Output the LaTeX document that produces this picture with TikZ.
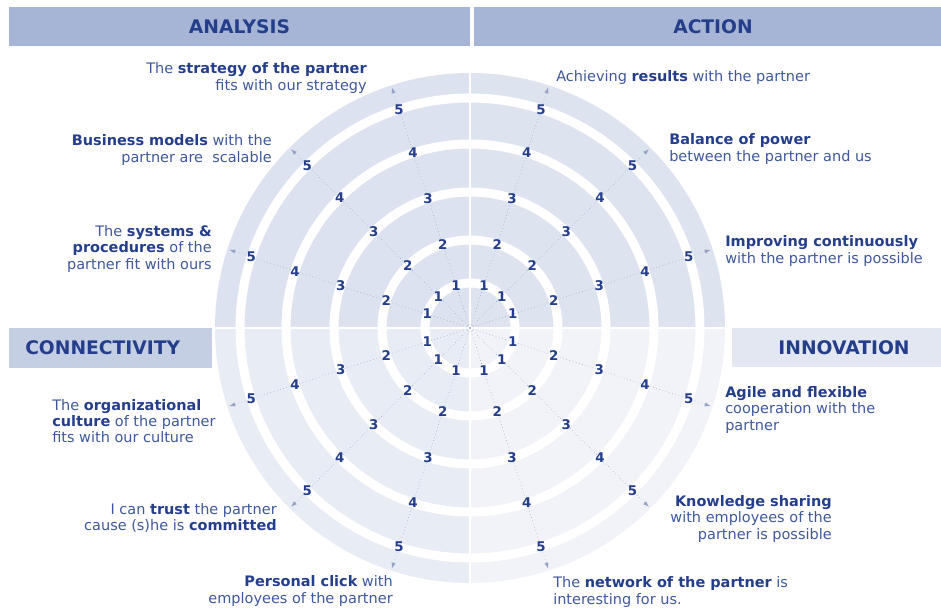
\documentclass[tikz,border=0pt]{standalone}
\usepackage{fontspec}
\setmainfont{DejaVu Sans}

\definecolor{barTop}{RGB}{166,181,214}
\definecolor{barCon}{RGB}{197,207,228}
\definecolor{barInn}{RGB}{226,231,242}
\definecolor{qAna}{RGB}{220,226,239}
\definecolor{qAct}{RGB}{221,227,239}
\definecolor{qCon}{RGB}{232,236,244}
\definecolor{qInn}{RGB}{241,243,249}
\definecolor{darkblue}{RGB}{36,62,140}
\definecolor{textblue}{RGB}{62,88,155}
\definecolor{spokegray}{RGB}{150,162,195}

\newcommand{\kw}[1]{\textbf{\color{darkblue}#1}}

\begin{document}
\begin{tikzpicture}[
        bar/.style={minimum height=0.975cm, inner sep=0pt, font=\fontsize{13.3}{14}\selectfont\bfseries, text=darkblue},
        itemtext/.style={inner sep=0pt, font=\fontsize{10.3}{11.6}\selectfont, text=textblue},
        num/.style={inner sep=1pt, font=\fontsize{9.5}{10}\selectfont\bfseries, text=darkblue},
        spoke/.style={dotted, thin, spokegray, -latex},
    ]
        \useasboundingbox (-11.75,-7.025) rectangle (11.775,8.2);

        % quadrants and rings
        \foreach \s/\col in {0/qAct, 90/qAna, 180/qCon, 270/qInn}{
            \fill[\col] (0,0) -- (\s:6.375) arc[start angle=\s, delta angle=90, radius=6.375] -- cycle;
        }
        \foreach \r in {1.125,2.2,3.4,4.6,5.75}{
            \draw[white, line width=0.225cm] (0,0) circle (\r);
        }
        \draw[white, line width=0.06cm] (-6.4,0) -- (6.4,0);
        \draw[white, line width=0.06cm] (0,-6.4) -- (0,6.4);

        %Headers
        \node[bar, fill=barTop, minimum width=11.525cm] (analysis) at (-5.7625,7.5375) {ANALYSIS};
        \node[bar, fill=barTop, minimum width=11.95cm] (action) at (6.075,7.5375) {ACTION};
        \node[bar, fill=barCon, anchor=west, minimum height=1cm, inner xsep=0.4cm, text width=4.275cm, align=left] (connectivity) at (-11.525,-0.5) {CONNECTIVITY};
        \node[bar, fill=barInn, minimum width=5.6cm] (innovation) at (9.35,-0.4875) {INNOVATION};

        %Spokes and scores
        \coordinate (c) at (0,0);
        \foreach \a [count=\i] in {108,135,162,72,45,18,-18,-45,-72,198,225,252}{
            \coordinate (tip\i) at (\a:6.32);
            \draw[spoke] (c) -- (tip\i);
            \foreach \k/\r in {1/1.125,2/2.2,3/3.4,4/4.6,5/5.75}{
                \node[num] (n\i-\k) at (\a:\r) {\k};
            }
        }

        %Statements
        \node[itemtext, anchor=east, align=right] (strategy) at (-2.575,6.25) {The \kw{strategy of the partner}\\fits with our strategy};
        \node[itemtext, anchor=east, align=right] (business) at (-4.95,4.45) {\kw{Business models} with the\\partner are\ \ scalable};
        \node[itemtext, anchor=east, align=right] (systems) at (-6.45,1.975) {The \kw{systems \&}\\\kw{procedures} of the\\partner fit with ours};

        \node[itemtext, anchor=west, align=left] (results) at (2.15,6.25) {Achieving \kw{results} with the partner};
        \node[itemtext, anchor=west, align=left] (balance) at (4.975,4.475) {\kw{Balance of power}\\between the partner and us};
        \node[itemtext, anchor=west, align=left] (improving) at (6.375,1.925) {\kw{Improving continuously}\\with the partner is possible};

        \node[itemtext, anchor=west, align=left] (agile) at (6.375,-2.05) {\kw{Agile and flexible}\\cooperation with the\\partner};
        \node[itemtext, anchor=east, align=right] (knowledge) at (9.05,-4.775) {\kw{Knowledge sharing}\\with employees of the\\partner is possible};
        \node[itemtext, anchor=west, align=left] (network) at (2.075,-6.6) {The \kw{network of the partner} is\\interesting for us.};

        \node[itemtext, anchor=west, align=left] (culture) at (-10.45,-2.325) {The \kw{organizational}\\\kw{culture} of the partner\\fits with our culture};
        \node[itemtext, anchor=east, align=right] (trust) at (-4.825,-4.75) {I can \kw{trust} the partner\\cause (s)he is \kw{committed}};
        \node[itemtext, anchor=east, align=right] (personal) at (-1.925,-6.575) {\kw{Personal click} with\\employees of the partner};
    \end{tikzpicture}
\end{document}
